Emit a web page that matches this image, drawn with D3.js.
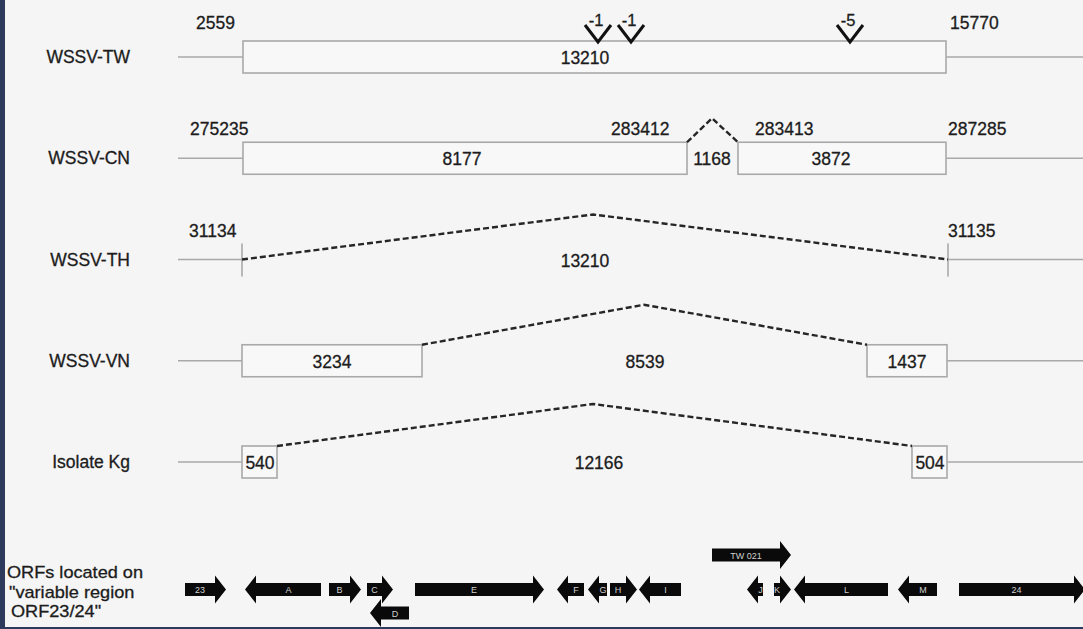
<!DOCTYPE html>
<html><head><meta charset="utf-8">
<script src="https://cdn.jsdelivr.net/npm/d3@7"></script>
<style>
html,body{margin:0;padding:0;background:#f5f5f5;overflow:hidden}
svg{display:block}
text{font-family:"Liberation Sans",Arial,sans-serif;fill:#1c1c1c}
.tx{stroke:#1c1c1c;stroke-width:0.3}
</style></head><body>
<svg id="chart" width="1083" height="629"></svg>
<script>
// ---- data (schematic positions along the aligned genomes) ----
const rows = ["WSSV-TW", "WSSV-CN", "WSSV-TH", "WSSV-VN", "Isolate Kg"];

// flanking genome backbone: [row, from, to]
const backbone = [
  ["WSSV-TW", 178, 243], ["WSSV-TW", 946, 1083],
  ["WSSV-CN", 178, 243], ["WSSV-CN", 946, 1083],
  ["WSSV-TH", 178, 242], ["WSSV-TH", 948, 1083],
  ["WSSV-VN", 178, 242], ["WSSV-VN", 947, 1083],
  ["Isolate Kg", 178, 242], ["Isolate Kg", 947, 1083]
];

// present sequence blocks: [row, from, to, length label, label position]
const blocks = [
  ["WSSV-TW", 243, 946, "13210", 585],
  ["WSSV-CN", 243, 687, "8177", 462],
  ["WSSV-CN", 738, 946, "3872", 831],
  ["WSSV-VN", 242, 422, "3234", 332],
  ["WSSV-VN", 867, 947, "1437", 907],
  ["Isolate Kg", 242, 277, "540", 260],
  ["Isolate Kg", 912, 947, "504", 930]
];

// deleted regions: [row, from, apex, to, deletion size label, label position]
const deletions = [
  ["WSSV-CN", 687, 712, 738, "1168", 712],
  ["WSSV-TH", 242, 593, 948, "13210", 585],
  ["WSSV-VN", 422, 644, 867, "8539", 645],
  ["Isolate Kg", 277, 593, 912, "12166", 599]
];

// genome coordinates printed above rows: [row, position, text]
const coords = [
  ["WSSV-TW", 196, "2559"], ["WSSV-TW", 950, "15770"],
  ["WSSV-CN", 190, "275235"], ["WSSV-CN", 611, "283412"],
  ["WSSV-CN", 755, "283413"], ["WSSV-CN", 948, "287285"],
  ["WSSV-TH", 189, "31134"], ["WSSV-TH", 948, "31135"]
];

// breakpoints marked by ticks
const breakpoints = [["WSSV-TH", 242], ["WSSV-TH", 948]];

// frameshift indels in WSSV-TW
const indels = [["WSSV-TW", 598, "-1"], ["WSSV-TW", 631, "-1"], ["WSSV-TW", 850, "-5"]];

// ORFs: [name, from, to, strand, lane]
const orfs = [
  ["23", 185, 226, "+", "main"],
  ["A", 245, 321, "-", "main"],
  ["B", 329, 361, "+", "main"],
  ["C", 367, 393, "+", "main"],
  ["D", 370, 409, "-", "lower"],
  ["E", 415, 544, "+", "main"],
  ["F", 557, 584, "-", "main"],
  ["G", 588, 607, "-", "main"],
  ["H", 610, 637, "+", "main"],
  ["I", 639, 681, "-", "main"],
  ["TW 021", 712, 791, "+", "upper"],
  ["J", 747, 763, "-", "main"],
  ["K", 774, 791, "+", "main"],
  ["L", 794, 888, "-", "main"],
  ["M", 898, 937, "-", "main"],
  ["24", 959, 1085, "+", "main"]
];
const lanes = ["upper", "main", "lower"];
const orfCaption = ["ORFs located on", "\"variable region", "ORF23/24\""];

// ---- layout / style ----
const W = 1083, H = 629;
const svg = d3.select("#chart");
const x = d3.scaleLinear().domain([0, 1083]).range([0, W]);
const y = d3.scalePoint().domain(rows).range([57, 462]);
const laneY = d3.scaleOrdinal().domain(lanes).range([555, 589.5, 613]);
const apexLift = {"WSSV-CN": 40, "WSSV-TH": 45, "WSSV-VN": 56, "Isolate Kg": 58};
const startLift = {"WSSV-CN": 16, "WSSV-TH": 0, "WSSV-VN": 16, "Isolate Kg": 16};
const boxHalf = 16;
const grey = "#a9a9a9";
const FS = 17.5;

svg.append("rect").attr("width", W).attr("height", H).attr("fill", "#f5f5f5");

// row labels
svg.append("g").selectAll("text").data(rows).join("text")
  .attr("class", "tx")
  .attr("x", 130).attr("y", d => y(d))
  .attr("text-anchor", "end").attr("dominant-baseline", "central")
  .attr("font-size", FS).text(d => d);

// backbone
svg.append("g").selectAll("line").data(backbone).join("line")
  .attr("x1", d => x(d[1])).attr("x2", d => x(d[2]))
  .attr("y1", d => y(d[0])).attr("y2", d => y(d[0]))
  .attr("stroke", grey).attr("stroke-width", 1.6);

// blocks
const bg = svg.append("g");
bg.selectAll("rect").data(blocks).join("rect")
  .attr("x", d => x(d[1])).attr("width", d => x(d[2]) - x(d[1]))
  .attr("y", d => y(d[0]) - boxHalf).attr("height", boxHalf * 2)
  .attr("fill", "#f8f8f8").attr("stroke", grey).attr("stroke-width", 1.6);
bg.selectAll("text").data(blocks).join("text")
  .attr("class", "tx")
  .attr("x", d => x(d[4])).attr("y", d => y(d[0]) + 1)
  .attr("text-anchor", "middle").attr("dominant-baseline", "central")
  .attr("font-size", FS).text(d => d[3]);

// breakpoint ticks
svg.append("g").selectAll("line").data(breakpoints).join("line")
  .attr("x1", d => x(d[1])).attr("x2", d => x(d[1]))
  .attr("y1", d => y(d[0]) - 16).attr("y2", d => y(d[0]) + 17)
  .attr("stroke", grey).attr("stroke-width", 1.6);

// deletions
const dg = svg.append("g");
dg.selectAll("path").data(deletions).join("path")
  .attr("d", d => {
    const r = y(d[0]);
    return d3.line()([[x(d[1]), r - startLift[d[0]]], [x(d[2]), r - apexLift[d[0]]], [x(d[3]), r - startLift[d[0]]]]);
  })
  .attr("fill", "none").attr("stroke", "#262626").attr("stroke-width", 2.4)
  .attr("stroke-dasharray", "6,3");
dg.selectAll("text").data(deletions).join("text")
  .attr("class", "tx")
  .attr("x", d => x(d[5])).attr("y", d => y(d[0]) + 1)
  .attr("text-anchor", "middle").attr("dominant-baseline", "central")
  .attr("font-size", FS).text(d => d[4]);

// coordinates
svg.append("g").selectAll("text").data(coords).join("text")
  .attr("class", "tx")
  .attr("x", d => x(d[1]))
  .attr("y", d => y(d[0]) - (d[0] === "WSSV-TW" ? 34 : 29))
  .attr("dominant-baseline", "central")
  .attr("font-size", FS).text(d => d[2]);

// indels
const ig = svg.append("g");
ig.selectAll("path").data(indels).join("path")
  .attr("d", d => {
    const cx = x(d[1]), r = y(d[0]);
    return d3.line()([[cx - 13, r - 32], [cx, r - 15], [cx + 13, r - 32]]);
  })
  .attr("fill", "none").attr("stroke", "#111").attr("stroke-width", 3);
ig.selectAll("text").data(indels).join("text")
  .attr("class", "tx")
  .attr("x", d => x(d[1]) - 2).attr("y", d => y(d[0]) - 37)
  .attr("text-anchor", "middle").attr("dominant-baseline", "central")
  .attr("font-size", 16.5).text(d => d[2]);

// ORF caption
svg.append("g").selectAll("text").data(orfCaption).join("text")
  .attr("class", "tx")
  .attr("transform", (d, i) => `translate(${[7, 9, 11][i]},${[572.5, 592, 611.5][i]}) scale(1.08,1)`)
  .attr("dominant-baseline", "central")
  .attr("font-size", 16.8).text(d => d);

// ORF arrows
const bh = 6.5, hh = 14, hl = 11;
function arrowPath(d) {
  const a = x(d[1]), b = x(d[2]), c = laneY(d[4]);
  if (d[3] === "+") {
    return `M${a},${c - bh}L${b - hl},${c - bh}L${b - hl},${c - hh}L${b},${c}L${b - hl},${c + hh}L${b - hl},${c + bh}L${a},${c + bh}Z`;
  }
  return `M${b},${c - bh}L${a + hl},${c - bh}L${a + hl},${c - hh}L${a},${c}L${a + hl},${c + hh}L${a + hl},${c + bh}L${b},${c + bh}Z`;
}
const og = svg.append("g");
og.selectAll("path").data(orfs).join("path")
  .attr("d", arrowPath).attr("fill", "#0a0a0a");
og.selectAll("text").data(orfs).join("text")
  .attr("x", d => d[3] === "+" ? (x(d[1]) + x(d[2]) - hl) / 2 : (x(d[1]) + hl + x(d[2])) / 2)
  .attr("y", d => laneY(d[4]) + 0.5)
  .attr("text-anchor", "middle").attr("dominant-baseline", "central")
  .attr("font-size", 9).style("fill", "#d0d0d0").text(d => d[0]);

// frame of the original figure
svg.append("rect").attr("x", 0).attr("y", 0).attr("width", 5).attr("height", H).attr("fill", "#2e3a5c");
svg.append("rect").attr("x", 0).attr("y", 627).attr("width", W).attr("height", 2).attr("fill", "#2e3a5c");
</script>
</body></html>
